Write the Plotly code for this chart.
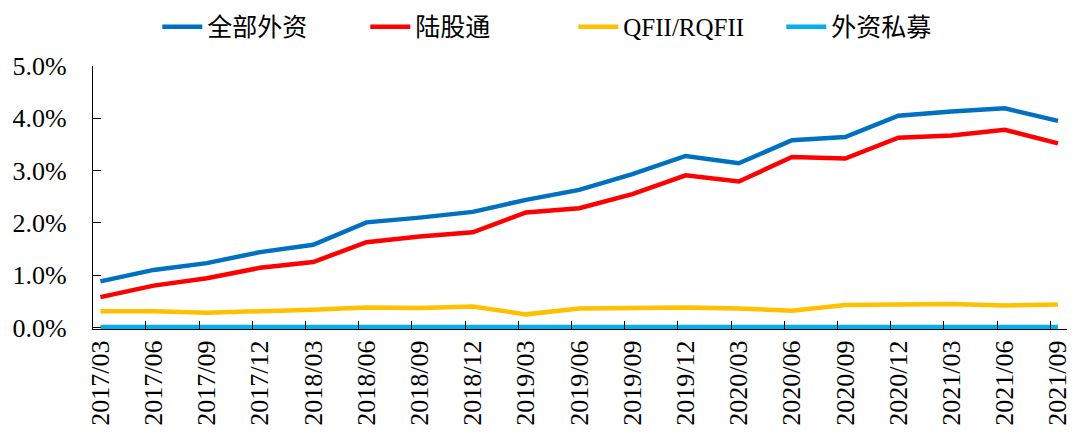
import plotly.graph_objects as go

categories = ["2017/03", "2017/06", "2017/09", "2017/12", "2018/03", "2018/06", "2018/09",
              "2018/12", "2019/03", "2019/06", "2019/09", "2019/12", "2020/03", "2020/06",
              "2020/09", "2020/12", "2021/03", "2021/06", "2021/09"]

all_foreign = [0.88, 1.10, 1.23, 1.44, 1.58, 2.01, 2.10, 2.21, 2.44, 2.63, 2.93, 3.28, 3.14,
               3.58, 3.64, 4.05, 4.13, 4.19, 3.95]
stock_connect = [0.58, 0.80, 0.94, 1.14, 1.25, 1.63, 1.74, 1.82, 2.20, 2.28, 2.55, 2.91, 2.79,
                 3.26, 3.23, 3.63, 3.67, 3.78, 3.52]
qfii = [0.31, 0.31, 0.28, 0.30, 0.34, 0.38, 0.37, 0.40, 0.25, 0.36, 0.37, 0.38, 0.36,
        0.32, 0.43, 0.43, 0.45, 0.42, 0.44]
foreign_private = [0.01, 0.01, 0.01, 0.01, 0.01, 0.01, 0.01, 0.01, 0.01, 0.01, 0.01, 0.01, 0.01,
                   0.01, 0.01, 0.01, 0.01, 0.01, 0.01]

series_names = ["全部外资", "陆股通", "QFII/RQFII", "外资私募"]
series_colors = ["#0070C0", "#FF0000", "#FFC000", "#00B0F0"]
series_values = [all_foreign, stock_connect, qfii, foreign_private]

y_ticks = [0, 1, 2, 3, 4, 5]
y_tick_labels = ["0.0%", "1.0%", "2.0%", "3.0%", "4.0%", "5.0%"]

FONT = "Liberation Serif, Noto Sans CJK SC, serif"

x_idx = list(range(len(categories)))

fig = go.Figure()
for name, color, vals in zip(series_names, series_colors, series_values):
    fig.add_trace(go.Scatter(x=x_idx, y=vals, mode="lines", name=name,
                             line=dict(color=color, width=4.5)))

# page body has an 8px margin, so the figure is sized/offset to compensate
fig.update_layout(
    width=1078, height=439,
    margin=dict(l=85, r=19, t=58, b=118, autoexpand=False),
    plot_bgcolor="white", paper_bgcolor="white",
    font=dict(family=FONT, color="black", size=24),
    legend=dict(orientation="h", x=0.066, xanchor="left",
                yref="container", y=0.957, yanchor="middle",
                font=dict(family=FONT, size=25, color="black"),
                itemwidth=40, entrywidth=153, entrywidthmode="pixels"),
    showlegend=True,
)

fig.update_xaxes(
    range=[-0.14, 18.17],
    tickmode="array", tickvals=x_idx, ticktext=categories,
    tickangle=-90, ticks="", showgrid=False, zeroline=False,
    showline=True, linecolor="black", linewidth=1.2,
    tickfont=dict(family=FONT, size=26, color="black"),
    automargin=False,
    minor=dict(tickmode="array", tickvals=[i + 0.855 for i in range(18)],
               ticks="inside", ticklen=8, tickcolor="black", tickwidth=1.2, showgrid=False),
)

fig.update_yaxes(
    range=[-0.03, 5.0],
    tickmode="array", tickvals=y_ticks, ticktext=y_tick_labels,
    ticks="inside", ticklen=8, tickcolor="black", tickwidth=1.2,
    ticklabelstandoff=20,
    showgrid=False, zeroline=False,
    showline=True, linecolor="black", linewidth=1.2,
    tickfont=dict(family=FONT, size=26, color="black"),
    automargin=False,
)

fig.write_html("out.html")
